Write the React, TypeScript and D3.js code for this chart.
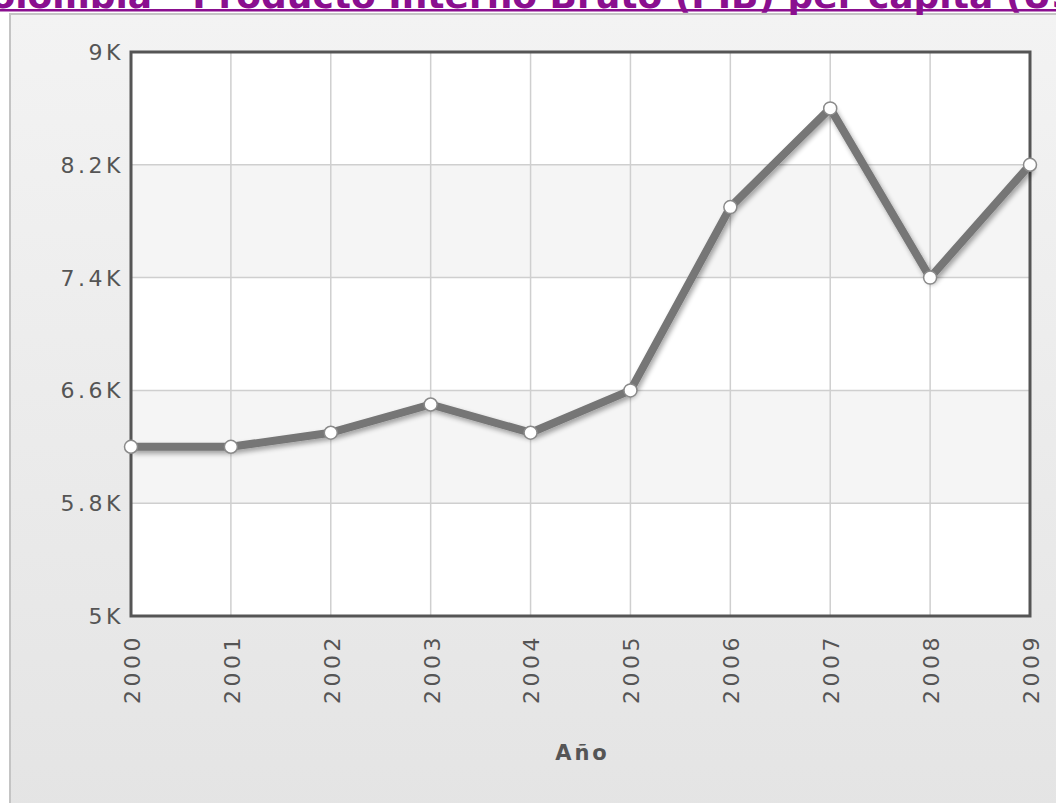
import React from "react";
import * as d3 from "d3";

const years = ["2000", "2001", "2002", "2003", "2004", "2005", "2006", "2007", "2008", "2009"];
const gdpPerCapita = [6200, 6200, 6300, 6500, 6300, 6600, 7900, 8600, 7400, 8200];
const yTicks = [5000, 5800, 6600, 7400, 8200, 9000];
const yTickLabels = ["5K", "5.8K", "6.6K", "7.4K", "8.2K", "9K"];
const titleText = "Colombia - Producto Interno Bruto (PIB) per capita (US$)";
const xAxisTitle = "Año";

const W = 1056;
const H = 803;
const left = 131;
const right = 1030;
const top = 52;
const bottom = 616;

export default function App() {
  const x = d3.scalePoint<string>().domain(years).range([left, right]);
  const y = d3.scaleLinear().domain([5000, 9000]).range([bottom, top]);
  const line = d3
    .line<number>()
    .x((_, i) => x(years[i]) as number)
    .y((d) => y(d));
  const path = line(gdpPerCapita) || "";
  const font = "Verdana, 'DejaVu Sans', sans-serif";

  return (
    <svg
      width={W}
      height={H}
      style={{ position: "absolute", left: 0, top: 0, display: "block" }}
    >
      <defs>
        <linearGradient id="bg" x1="0" y1="0" x2="0" y2="1">
          <stop offset="0" stopColor="#f3f3f3" />
          <stop offset="1" stopColor="#e4e4e4" />
        </linearGradient>
        <filter id="shadow" x="-10%" y="-10%" width="120%" height="130%">
          <feGaussianBlur in="SourceAlpha" stdDeviation="2.5" />
          <feOffset dx="2" dy="3" result="b" />
          <feComponentTransfer>
            <feFuncA type="linear" slope="0.35" />
          </feComponentTransfer>
          <feMerge>
            <feMergeNode />
            <feMergeNode in="SourceGraphic" />
          </feMerge>
        </filter>
      </defs>
      <rect x={0} y={0} width={W} height={H} fill="#ffffff" />
      <rect x={10} y={14} width={W + 20} height={H} fill="url(#bg)" stroke="#c4c4c4" strokeWidth={2} />
      {/* title */}
      <text
        x={-36}
        y={8}
        fontFamily={font}
        fontWeight="bold"
        fontSize={36}
        fill="#8a0f8f"
      >
        {titleText}
      </text>
      <rect x={0} y={9} width={W} height={2.5} fill="#8a0f8f" />

      {/* plot background bands */}
      <rect x={left} y={top} width={right - left} height={bottom - top} fill="#ffffff" />
      {yTicks.slice(0, -1).map((t, i) =>
        i % 2 === 1 ? (
          <rect
            key={"band" + t}
            x={left}
            y={y(yTicks[i + 1])}
            width={right - left}
            height={y(t) - y(yTicks[i + 1])}
            fill="#f5f5f5"
          />
        ) : null
      )}
      {/* grid */}
      {yTicks.map((t) => (
        <line key={"hg" + t} x1={left} x2={right} y1={y(t)} y2={y(t)} stroke="#cfcfcf" strokeWidth={1.5} />
      ))}
      {years.map((yr) => (
        <line key={"vg" + yr} x1={x(yr)} x2={x(yr)} y1={top} y2={bottom} stroke="#cfcfcf" strokeWidth={1.5} />
      ))}
      {/* border */}
      <rect
        x={left}
        y={top}
        width={right - left}
        height={bottom - top}
        fill="none"
        stroke="#555555"
        strokeWidth={3}
      />
      {/* y labels */}
      {yTicks.map((t, i) => (
        <text
          key={"yl" + t}
          x={left - 7}
          y={y(t)}
          dy="0.36em"
          textAnchor="end"
          fontFamily={font}
          fontSize={22}
          letterSpacing={3.5}
          fill="#555555"
        >
          {yTickLabels[i]}
        </text>
      ))}
      {/* x labels */}
      {years.map((yr) => (
        <text
          key={"xl" + yr}
          transform={`translate(${(x(yr) as number) + 1},634) rotate(-90)`}
          dy="0.36em"
          textAnchor="end"
          fontFamily={font}
          fontSize={22}
          letterSpacing={3.5}
          fill="#555555"
        >
          {yr}
        </text>
      ))}
      <text
        x={(left + right) / 2 + 2}
        y={760}
        textAnchor="middle"
        fontFamily={font}
        fontWeight="bold"
        fontSize={21}
        letterSpacing={3}
        fill="#555555"
      >
        {xAxisTitle}
      </text>
      {/* line */}
      <g filter="url(#shadow)">
        <path d={path} fill="none" stroke="#767676" strokeWidth={8} strokeLinejoin="round" />
      </g>
      {gdpPerCapita.map((v, i) => (
        <circle
          key={"pt" + i}
          cx={x(years[i])}
          cy={y(v)}
          r={6.5}
          fill="#ffffff"
          stroke="#8a8a8a"
          strokeWidth={1.5}
        />
      ))}
    </svg>
  );
}
